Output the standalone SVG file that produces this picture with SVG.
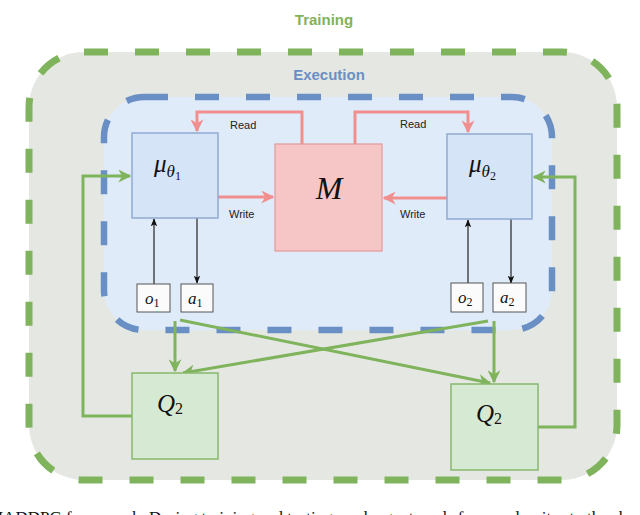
<svg xmlns="http://www.w3.org/2000/svg" width="640" height="515" viewBox="0 0 640 515">
<style>
.lbl{font-family:"Liberation Sans",Arial,sans-serif;font-size:11px;fill:#222}
.title{font-family:"Liberation Sans",Arial,sans-serif;font-size:15px;font-weight:bold;text-anchor:middle}
.math{font-family:"Liberation Serif","Times New Roman",serif;font-style:italic;fill:#111}
.sub{font-family:"Liberation Serif","Times New Roman",serif;font-style:normal;fill:#111}
.red{fill:none;stroke:#f08f8e;stroke-width:3}
.grn{fill:none;stroke:#7fb35c;stroke-width:3}
.blk{fill:none;stroke:#333;stroke-width:1.3}
.mu{fill:#d5e4f7;stroke:#90aad2;stroke-width:1.5}
.q{fill:#d6e9d3;stroke:#86b86c;stroke-width:1.5}
.obs{fill:#fbfbfb;stroke:#555;stroke-width:1}
</style>
<defs>
<marker id="ar" viewBox="0 0 10 10" refX="9" refY="5" markerWidth="13" markerHeight="13" markerUnits="userSpaceOnUse" orient="auto"><path d="M0,0 L10,5 L0,10 L3,5 z" fill="#f08f8e"/></marker>
<marker id="ag" viewBox="0 0 10 10" refX="9" refY="5" markerWidth="13" markerHeight="13" markerUnits="userSpaceOnUse" orient="auto"><path d="M0,0 L10,5 L0,10 L3,5 z" fill="#7fb35c"/></marker>
<marker id="ab" viewBox="0 0 10 10" refX="9" refY="5" markerWidth="8" markerHeight="8" markerUnits="userSpaceOnUse" orient="auto"><path d="M0,1 L10,5 L0,9 L2,5 z" fill="#111"/></marker>
</defs>
<rect width="640" height="515" fill="#ffffff"/>
<g id="training">
<rect x="29" y="52" width="588" height="428" rx="55" fill="#e5e8e2" stroke="#7fb35c" stroke-width="7" stroke-dasharray="24 27"/>
<text class="title" x="324" y="25" fill="#7fb35c">Training</text>
</g>
<g id="execution">
<rect x="104" y="97" width="448" height="233" rx="40" fill="#e0ebfa" stroke="#6a8fc4" stroke-width="6.5" stroke-dasharray="24 27"/>
<text class="title" x="329" y="80" fill="#6a8fc4">Execution</text>
</g>
<g id="connectors">
<path class="red" d="M302,144 V112 H197 V131" marker-end="url(#ar)"/>
<path class="red" d="M355,144 V112 H468 V132" marker-end="url(#ar)"/>
<path class="red" d="M218,197 H273" marker-end="url(#ar)"/>
<path class="red" d="M447,198 H384" marker-end="url(#ar)"/>
<path class="blk" d="M154,284 V219" marker-end="url(#ab)"/>
<path class="blk" d="M197,218 V283" marker-end="url(#ab)"/>
<path class="blk" d="M468,283 V220" marker-end="url(#ab)"/>
<path class="blk" d="M511,219 V283" marker-end="url(#ab)"/>
<path class="grn" d="M132,416 H83 V176 H130" marker-end="url(#ag)"/>
<path class="grn" d="M538,427 H575 V177 H534" marker-end="url(#ag)"/>
<path class="grn" d="M175,321 V371" marker-end="url(#ag)"/>
<path class="grn" d="M494,321 V382" marker-end="url(#ag)"/>
<path class="grn" d="M180,320 L490,383" marker-end="url(#ag)"/>
<path class="grn" d="M488,321 L183,373" marker-end="url(#ag)"/>
<text class="lbl" x="230" y="129">Read</text>
<text class="lbl" x="400" y="128">Read</text>
<text class="lbl" x="229" y="218">Write</text>
<text class="lbl" x="400" y="218">Write</text>
</g>
<g id="mu1">
<rect class="mu" x="132" y="133" width="86" height="85"/>
<text x="154" y="172"><tspan class="math" font-size="25">μ</tspan><tspan class="math" font-size="17" dy="5">θ</tspan><tspan class="sub" font-size="12" dy="3">1</tspan></text>
</g>
<g id="memory">
<rect x="275" y="144" width="107" height="107" fill="#f5c6c5" stroke="#e29a99" stroke-width="1.2"/>
<text class="math" x="329" y="199" font-size="32" text-anchor="middle">M</text>
</g>
<g id="mu2">
<rect class="mu" x="447" y="134" width="85" height="85"/>
<text x="469" y="172"><tspan class="math" font-size="25">μ</tspan><tspan class="math" font-size="17" dy="5">θ</tspan><tspan class="sub" font-size="12" dy="3">2</tspan></text>
</g>
<g id="o1">
<rect class="obs" x="137" y="284" width="33" height="28"/>
<text x="145" y="304"><tspan class="math" font-size="17">o</tspan><tspan class="sub" font-size="12" dy="3">1</tspan></text>
</g>
<g id="a1">
<rect class="obs" x="181" y="284" width="32" height="28"/>
<text x="188" y="304"><tspan class="math" font-size="17">a</tspan><tspan class="sub" font-size="12" dy="3">1</tspan></text>
</g>
<g id="o2">
<rect class="obs" x="451" y="283" width="32" height="29"/>
<text x="458" y="303"><tspan class="math" font-size="17">o</tspan><tspan class="sub" font-size="12" dy="3">2</tspan></text>
</g>
<g id="a2">
<rect class="obs" x="493" y="283" width="33" height="29"/>
<text x="500" y="303"><tspan class="math" font-size="17">a</tspan><tspan class="sub" font-size="12" dy="3">2</tspan></text>
</g>
<g id="q1">
<rect class="q" x="132" y="373" width="86" height="86"/>
<text x="157" y="412"><tspan class="math" font-size="25">Q</tspan><tspan class="sub" font-size="16" dy="2">2</tspan></text>
</g>
<g id="q2">
<rect class="q" x="451" y="384" width="87" height="86"/>
<text x="476" y="422"><tspan class="math" font-size="25">Q</tspan><tspan class="sub" font-size="16" dy="2">2</tspan></text>
</g>
<text x="-12" y="523" font-family="'Liberation Serif','Times New Roman',serif" font-size="17" fill="#111">MADDPG framework. During training and testing, each agent reads from and writes to the shared memory</text>
</svg>
